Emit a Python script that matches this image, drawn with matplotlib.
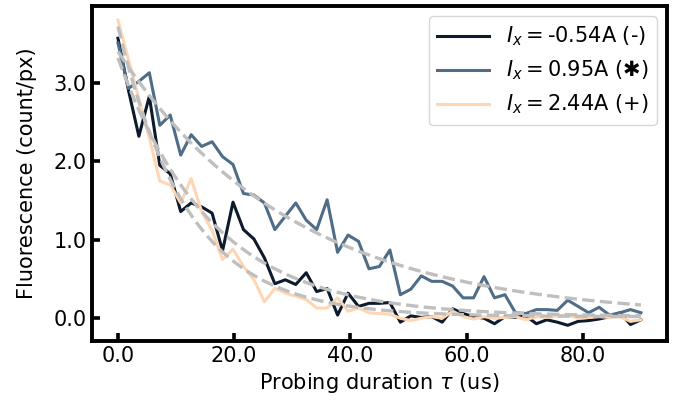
import numpy as np
import matplotlib.pyplot as plt
from matplotlib.ticker import FormatStrFormatter

# probing durations (us)
tau_us = np.linspace(0, 90, 51)

fluo_neg = [3.57, 2.91, 2.32, 2.83, 1.95, 1.84, 1.36, 1.47, 1.42, 1.34,
            0.86, 1.48, 1.13, 1.01, 0.77, 0.44, 0.49, 0.43, 0.58, 0.34,
            0.38, 0.04, 0.32, 0.15, 0.19, 0.19, 0.20, -0.05, 0.03, 0.01,
            0.02, -0.05, 0.12, 0.06, 0.02, 0.00, -0.07, 0.02, 0.01, 0.03,
            -0.07, -0.02, -0.05, -0.09, -0.04, -0.03, -0.01, 0.02, 0.07, -0.08,
            -0.02]
fluo_mid = [3.51, 2.93, 3.02, 3.13, 2.46, 2.59, 2.08, 2.34, 2.19, 2.25,
            2.06, 1.96, 1.59, 1.57, 1.47, 1.13, 1.30, 1.47, 1.25, 1.13,
            1.51, 0.84, 1.06, 0.98, 0.63, 0.66, 0.87, 0.30, 0.37, 0.54,
            0.47, 0.47, 0.41, 0.26, 0.26, 0.53, 0.26, 0.30, 0.07, 0.06,
            0.11, 0.11, 0.10, 0.23, 0.15, 0.07, 0.14, 0.04, 0.07, 0.11,
            0.07]
fluo_pos = [3.80, 3.30, 2.80, 2.30, 1.75, 1.70, 1.47, 1.78, 1.36, 1.12,
            0.75, 0.88, 0.66, 0.49, 0.21, 0.38, 0.32, 0.28, 0.24, 0.13,
            0.13, 0.26, 0.09, 0.13, 0.07, 0.06, 0.05, 0.00, -0.03, 0.00,
            0.02, 0.00, 0.09, 0.02, -0.01, 0.02, 0.00, 0.01, 0.02, -0.02,
            0.02, 0.01, 0.03, 0.04, 0.00, 0.01, 0.02, 0.01, 0.02, -0.04,
            -0.02]

labels = [r'$I_x=$-0.54A (-)', r'$I_x=$0.95A (✱)', r'$I_x=$2.44A (+)']
colors = ['#0c1a2c', '#4f6d87', '#ffd6b3']

# exponential fit parameters: amplitude, decay time (us), offset
fit_amp = [3.3, 3.4, 3.7]
fit_tau = [16.0, 30.0, 12.0]
fit_off = [0.02, 0.0, 0.02]

plt.rcParams['font.size'] = 15
fig, ax = plt.subplots(figsize=(6.8, 4.04), dpi=100)
fig.subplots_adjust(left=0.135, right=0.981, bottom=0.156, top=0.985)

for y, c, lab in zip([fluo_neg, fluo_mid, fluo_pos], colors, labels):
    ax.plot(tau_us, y, color=c, lw=2.2, label=lab)

t_fit = np.linspace(0, 90, 200)
for a, tt, c0 in zip(fit_amp, fit_tau, fit_off):
    ax.plot(t_fit, a * np.exp(-t_fit / tt) + c0, '--', color='#bfbfbf', lw=2.4)

ax.set_xlim(-4.5, 94.5)
ax.set_ylim(-0.29, 3.98)
ax.set_xticks([0, 20, 40, 60, 80])
ax.set_yticks([0, 1, 2, 3])
ax.xaxis.set_major_formatter(FormatStrFormatter('%.1f'))
ax.yaxis.set_major_formatter(FormatStrFormatter('%.1f'))
ax.tick_params(direction='in', length=6, width=2.6)
for s in ax.spines.values():
    s.set_linewidth(2.8)

ax.set_xlabel(r'Probing duration $\tau$ (us)')
ax.set_ylabel('Fluorescence (count/px)', labelpad=12)
ax.legend(loc='upper right', fontsize=15, handlelength=2.5)

fig.savefig('out.png')
